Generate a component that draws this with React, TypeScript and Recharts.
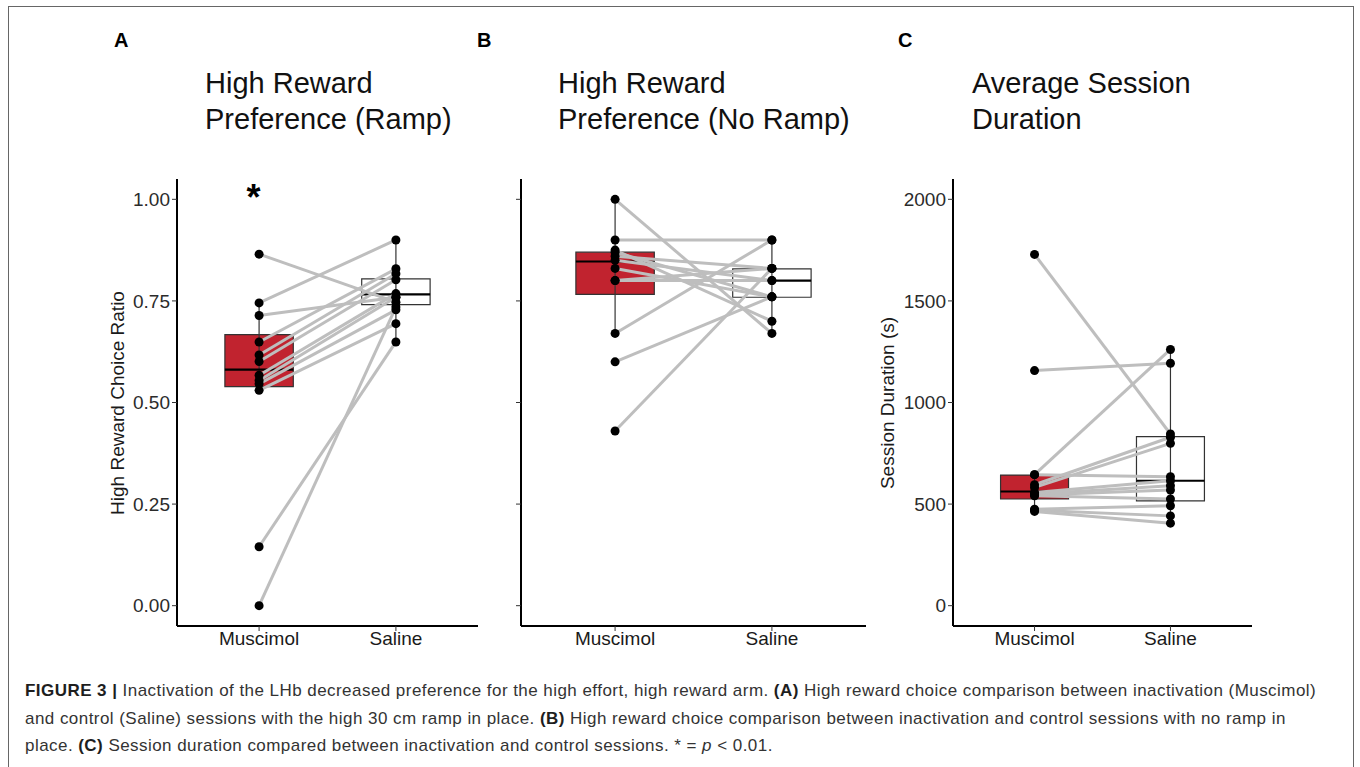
import React from 'react';
import {
  ComposedChart,
  Line,
  Scatter,
  XAxis,
  YAxis,
  ReferenceArea,
  ReferenceLine,
  ReferenceDot,
} from 'recharts';

// ---------- data ----------
const groups = ['Muscimol', 'Saline'];

// Panel A: High Reward Preference (Ramp)
const rampMuscimol = [0.865, 0.745, 0.714, 0.649, 0.617, 0.601, 0.567, 0.554, 0.546, 0.53, 0.145, 0.0];
const rampSaline = [0.747, 0.9, 0.759, 0.829, 0.817, 0.802, 0.768, 0.759, 0.728, 0.694, 0.649, 0.735];
// box stats: [whiskerLow, q1, median, q3, whiskerHigh]
const rampBoxMuscimol = [0.53, 0.539, 0.581, 0.667, 0.745];
const rampBoxSaline = [0.649, 0.741, 0.766, 0.804, 0.9];

// Panel B: High Reward Preference (No Ramp)
const noRampMuscimol = [1.0, 0.9, 0.875, 0.87, 0.86, 0.85, 0.83, 0.8, 0.8, 0.67, 0.6, 0.43];
const noRampSaline = [0.67, 0.9, 0.7, 0.76, 0.83, 0.8, 0.76, 0.83, 0.8, 0.9, 0.76, 0.83];
const noRampBoxMuscimol = [0.67, 0.766, 0.847, 0.87, 1.0];
const noRampBoxSaline = [0.67, 0.759, 0.8, 0.829, 0.9];

// Panel C: Average Session Duration (s)
const durMuscimol = [1729, 1157, 645, 645, 595, 582, 557, 550, 545, 541, 475, 470, 464];
const durSaline = [845, 1193, 1261, 635, 829, 799, 615, 590, 569, 525, 492, 442, 406];
const durBoxMuscimol = [464, 525, 562, 643, 645];
const durBoxSaline = [406, 516, 615, 832, 1261];

const ratioTicks = [0, 0.25, 0.5, 0.75, 1];
const durTicks = [0, 500, 1000, 1500, 2000];

// ---------- styles ----------
const RED = '#C1232F';
const GREY_LINE = '#BEBEBE';
const FONT = '"Liberation Sans", Arial, Helvetica, sans-serif';
const BOX_HALF = 0.25;

const dot = (p: any) => <circle cx={p.cx} cy={p.cy} r={4.5} fill="#000" />;

function boxElements(stats: number[], xc: number, fill: string, key: string) {
  const [lo, q1, med, q3, hi] = stats;
  return [
    <ReferenceLine
      key={key + 'w'}
      segment={[{ x: xc, y: lo }, { x: xc, y: hi }]}
      stroke="#333"
      strokeWidth={1.2}
      ifOverflow="visible"
    />,
    <ReferenceArea
      key={key + 'b'}
      x1={xc - BOX_HALF}
      x2={xc + BOX_HALF}
      y1={q1}
      y2={q3}
      fill={fill}
      fillOpacity={1}
      stroke="#333"
      strokeWidth={1.2}
      ifOverflow="visible"
    />,
    <ReferenceLine
      key={key + 'm'}
      segment={[{ x: xc - BOX_HALF, y: med }, { x: xc + BOX_HALF, y: med }]}
      stroke="#000"
      strokeWidth={2.2}
      ifOverflow="visible"
    />,
  ];
}

type PanelProps = {
  left: number;
  width: number;
  a: number[];
  b: number[];
  boxA: number[];
  boxB: number[];
  domain: [number, number];
  ticks: number[];
  showYLabels: boolean;
  yFormat?: (v: number) => string;
  star?: boolean;
};

function Panel({ left, width, a, b, boxA, boxB, domain, ticks, showYLabels, yFormat, star }: PanelProps) {
  const ptsA = a.map((y) => ({ x: 1, y }));
  const ptsB = b.map((y) => ({ x: 2, y }));
  return (
    <div style={{ position: 'absolute', left, top: 150 }}>
      <ComposedChart width={width} height={520} margin={{ top: 29, right: 12, bottom: 4, left: 57 }}>
        <XAxis
          type="number"
          dataKey="x"
          domain={[0.4, 2.6]}
          ticks={[1, 2]}
          allowDataOverflow
          tickFormatter={(v: number) => groups[v - 1]}
          axisLine={{ stroke: '#000', strokeWidth: 2 }}
          tickLine={{ stroke: '#333' }}
          tickSize={5}
          tickMargin={1}
          height={40}
          tick={{ fill: '#1a1a1a', fontSize: 19 }}
        />
        <YAxis
          type="number"
          dataKey="y"
          domain={domain}
          ticks={ticks}
          allowDataOverflow
          width={60}
          tickFormatter={(v: number) => (showYLabels ? (yFormat ? yFormat(v) : String(v)) : '')}
          axisLine={{ stroke: '#000', strokeWidth: 2 }}
          tickLine={{ stroke: '#333' }}
          tickSize={5}
          tickMargin={2}
          tick={{ fill: '#2b2b2b', fontSize: 19 }}
        />
        {boxElements(boxA, 1, RED, 'a')}
        {boxElements(boxB, 2, '#FFFFFF', 'b')}
        {a.map((v, i) => (
          <Line
            key={'l' + i}
            data={[
              { x: 1, y: v },
              { x: 2, y: b[i] },
            ]}
            dataKey="y"
            stroke={GREY_LINE}
            strokeWidth={3}
            dot={false}
            activeDot={false}
            isAnimationActive={false}
            type="linear"
          />
        ))}
        <Scatter data={ptsA} dataKey="y" shape={dot} isAnimationActive={false} />
        <Scatter data={ptsB} dataKey="y" shape={dot} isAnimationActive={false} />
        {star ? (
          <ReferenceDot
            x={0.96}
            y={1.005}
            r={0}
            ifOverflow="visible"
            label={{ value: '*', position: 'center', fontSize: 36, fontWeight: 'bold', fill: '#000' }}
          />
        ) : null}
      </ComposedChart>
    </div>
  );
}

const titleStyle: React.CSSProperties = {
  position: 'absolute',
  top: 65,
  fontSize: 29,
  lineHeight: '36px',
  color: '#111',
  whiteSpace: 'nowrap',
};
const letterStyle: React.CSSProperties = {
  position: 'absolute',
  top: 30,
  fontSize: 20,
  lineHeight: '20px',
  fontWeight: 'bold',
  color: '#000',
};
const yLabelStyle: React.CSSProperties = {
  position: 'absolute',
  top: 403,
  fontSize: 19,
  color: '#1a1a1a',
  whiteSpace: 'nowrap',
  transform: 'translate(-50%, -50%) rotate(-90deg)',
};
const capBold: React.CSSProperties = { color: '#1e1e1e', fontWeight: 'bold' };

export default function App() {
  return (
    <div
      style={{
        position: 'absolute',
        left: 0,
        top: 0,
        width: 1360,
        height: 767,
        background: '#fff',
        fontFamily: FONT,
        overflow: 'hidden',
      }}
    >
      <div
        style={{
          position: 'absolute',
          left: 8,
          top: 6,
          width: 1346,
          height: 780,
          border: '1px solid #666',
          boxSizing: 'border-box',
        }}
      />
      <div style={{ ...letterStyle, left: 114 }}>A</div>
      <div style={{ ...letterStyle, left: 477 }}>B</div>
      <div style={{ ...letterStyle, left: 898 }}>C</div>

      <div style={{ ...titleStyle, left: 205 }}>
        High Reward
        <br />
        Preference (Ramp)
      </div>
      <div style={{ ...titleStyle, left: 558 }}>
        High Reward
        <br />
        Preference (No Ramp)
      </div>
      <div style={{ ...titleStyle, left: 972 }}>
        Average Session
        <br />
        Duration
      </div>

      <div style={{ ...yLabelStyle, left: 118 }}>High Reward Choice Ratio</div>
      <div style={{ ...yLabelStyle, left: 888 }}>Session Duration (s)</div>

      <Panel
        left={60}
        width={430}
        a={rampMuscimol}
        b={rampSaline}
        boxA={rampBoxMuscimol}
        boxB={rampBoxSaline}
        domain={[-0.05, 1.05]}
        ticks={ratioTicks}
        showYLabels
        yFormat={(v) => v.toFixed(2)}
        star
      />
      <Panel
        left={404}
        width={474}
        a={noRampMuscimol}
        b={noRampSaline}
        boxA={noRampBoxMuscimol}
        boxB={noRampBoxSaline}
        domain={[-0.05, 1.05]}
        ticks={ratioTicks}
        showYLabels={false}
      />
      <Panel
        left={836}
        width={428}
        a={durMuscimol}
        b={durSaline}
        boxA={durBoxMuscimol}
        boxB={durBoxSaline}
        domain={[-100, 2100]}
        ticks={durTicks}
        showYLabels
      />

      <div
        style={{
          position: 'absolute',
          left: 25,
          top: 677,
          fontSize: 17,
          letterSpacing: '0.45px',
          lineHeight: '27.5px',
          color: '#333',
          whiteSpace: 'nowrap',
        }}
      >
        <div>
          <span style={capBold}>FIGURE 3 |</span> Inactivation of the LHb decreased preference for the high effort, high reward arm.{' '}
          <span style={capBold}>(A)</span> High reward choice comparison between inactivation (Muscimol)
        </div>
        <div>
          and control (Saline) sessions with the high 30 cm ramp in place. <span style={capBold}>(B)</span> High reward choice
          comparison between inactivation and control sessions with no ramp in
        </div>
        <div>
          place. <span style={capBold}>(C)</span> Session duration compared between inactivation and control sessions. * ={' '}
          <i>p</i> &lt; 0.01.
        </div>
      </div>
    </div>
  );
}
